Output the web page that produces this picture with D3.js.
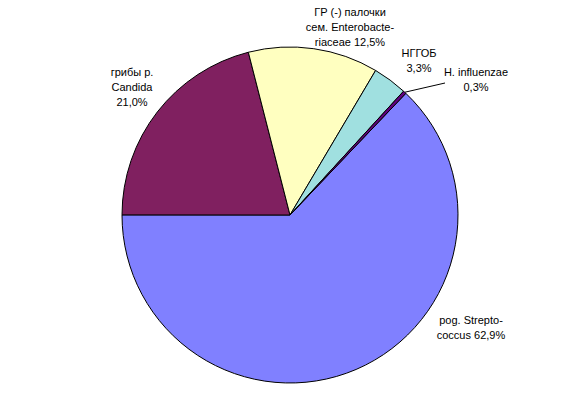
<!DOCTYPE html>
<html><head><meta charset="utf-8">
<script src="https://cdn.jsdelivr.net/npm/d3@7"></script>
<style>body{margin:0;background:#fff}text{font-family:Arial,"Liberation Sans",sans-serif;font-size:11px;fill:#000}</style>
</head><body>
<svg id="c" width="564" height="408"></svg>
<script>
const categories = ["pog. Strepto-coccus", "грибы р. Candida", "ГР (-) палочки сем. Enterobacte-riaceae", "НГГОБ", "H. influenzae"];
const values = [62.9, 21.0, 12.5, 3.3, 0.3];
const labelLines = [
  ["pog. Strepto-", "coccus 62,9%"],
  ["грибы р.", "Candida", "21,0%"],
  ["ГР (-) палочки", "сем. Enterobacte-", "riaceae 12,5%"],
  ["НГГОБ", "3,3%"],
  ["H. influenzae", "0,3%"]
];
const colors = ["#8080FF", "#802060", "#FFFFC0", "#A0E0E0", "#600080"];

const svg = d3.select("#c");
const cx = 290, cy = 215, r = 168;
const start = 43.6 * Math.PI / 180;
const pie = d3.pie().sort(null).value(d => d).startAngle(start).endAngle(start + 2 * Math.PI);
const arcs = pie(values);
const arc = d3.arc().innerRadius(0).outerRadius(r);
const g = svg.append("g").attr("transform", `translate(${cx},${cy})`);
g.selectAll("path").data(arcs).join("path")
  .attr("d", arc).attr("fill", (d, i) => colors[i])
  .attr("stroke", "#000").attr("stroke-width", 1).attr("stroke-linejoin", "round");

// label positions (absolute)
const labelPos = [[471, 324], [132, 76], [350, 16], [419, 57], [476, 76]];
labelLines.forEach((lines, i) => {
  const t = svg.append("text").attr("text-anchor", "middle")
    .attr("x", labelPos[i][0]).attr("y", labelPos[i][1]);
  lines.forEach((l, j) => t.append("tspan").attr("x", labelPos[i][0]).attr("dy", j === 0 ? 0 : 15).text(l));
});
// leader line for H. influenzae
const a = arcs[4];
const mid = (a.startAngle + a.endAngle) / 2;
svg.append("line")
  .attr("x1", cx + Math.sin(mid) * r).attr("y1", cy - Math.cos(mid) * r)
  .attr("x2", 445).attr("y2", 83).attr("stroke", "#000").attr("stroke-width", 1);
</script>
</body></html>
